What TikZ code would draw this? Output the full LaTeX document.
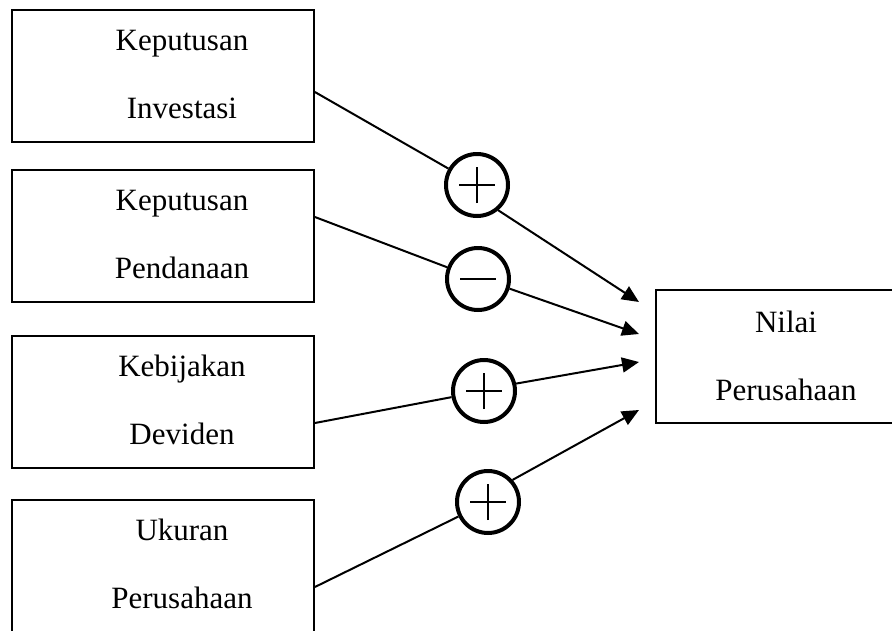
\documentclass[tikz,border=0pt]{standalone}
\usepackage{fontspec}
\setmainfont{Liberation Serif}
\usetikzlibrary{arrows.meta,calc}
\begin{document}
\begin{tikzpicture}[x=1pt,y=-1pt,
  box/.style={draw,line width=1.8pt,minimum width=302pt,minimum height=132pt,inner sep=0pt},
  lbl/.style={anchor=base,inner sep=0pt,font=\fontsize{31}{31}\selectfont},
  sigcirc/.style={draw,circle,line width=4pt,minimum size=62pt,inner sep=0pt},
  plussign/.style={sigcirc,path picture={
    \draw[line width=2pt] ([xshift=-18pt]path picture bounding box.center) -- ([xshift=18pt]path picture bounding box.center)
      ([yshift=-18pt]path picture bounding box.center) -- ([yshift=18pt]path picture bounding box.center);}},
  minussign/.style={sigcirc,path picture={
    \draw[line width=2pt] ([xshift=-18pt]path picture bounding box.center) -- ([xshift=18pt]path picture bounding box.center);}},
  conn/.style={line width=2pt},
  arr/.style={conn,-{Triangle[length=17pt,width=15pt]}}]
\fill[white] (0,0) rectangle (892,630);
\useasboundingbox (0,0) rectangle (892,630);
% boxes
\node[box] (b1) at (163,76) {};
\node[box] (b2) at (163,236) {};
\node[box] (b3) at (163,402) {};
\node[box] (b4) at (163,566) {};
\node[box,minimum width=250pt,minimum height=133pt] (b5) at (781,356.5) {};
% texts
\node[lbl] (k1) at (182,50) {Keputusan};
\node[lbl] (k2) at (182,118) {Investasi};
\node[lbl] (k3) at (182,210) {Keputusan};
\node[lbl] (k4) at (182,278) {Pendanaan};
\node[lbl] (k5) at (182,376) {Kebijakan};
\node[lbl] (k6) at (182,444) {Deviden};
\node[lbl] (k7) at (182,540) {Ukuran};
\node[lbl] (k8) at (182,608) {Perusahaan};
\node[lbl] (k9) at (786,332) {Nilai};
\node[lbl] (k10) at (786,400) {Perusahaan};
% sign circles
\node[plussign] (c1) at (477,185) {};
\node[minussign] (c2) at (478,279) {};
\node[plussign] (c3) at (484,391) {};
\node[plussign] (c4) at (488,502) {};
% arrow tips
\coordinate (t1) at (639,302);
\coordinate (t2) at (639,334);
\coordinate (t3) at (639,362);
\coordinate (t4) at (639,410);
% connectors
\draw[conn] ($(b1.east)+(0,16)$) -- (c1);
\draw[conn] ($(b2.east)+(0,-19)$) -- (c2);
\draw[conn] ($(b3.east)+(0,21)$) -- (c3);
\draw[conn] ($(b4.east)+(0,21)$) -- (c4);
\draw[arr] (c1.-50) -- (t1);
\draw[arr] (c2.-17) -- (t2);
\draw[arr] (c3.13) -- (t3);
\draw[arr] (c4.42) -- (t4);
\end{tikzpicture}
\end{document}
